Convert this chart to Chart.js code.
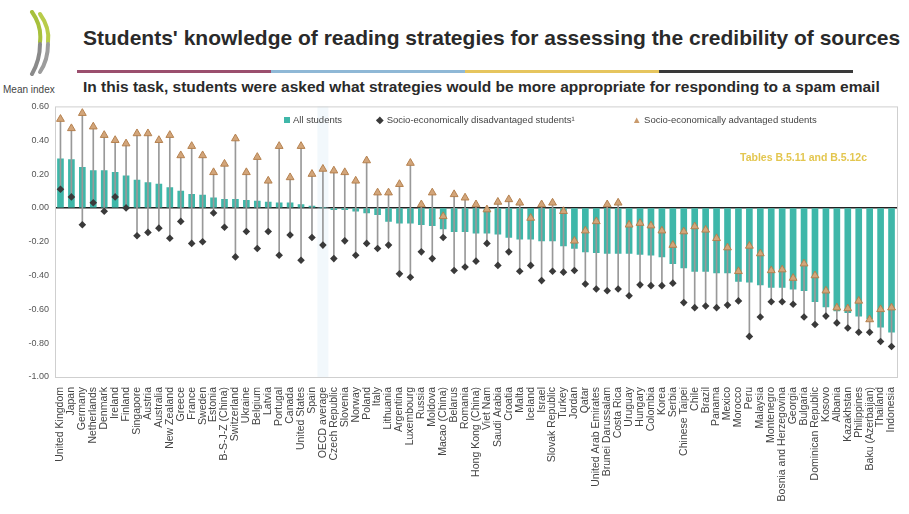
<!DOCTYPE html>
<html>
<head>
<meta charset="utf-8">
<script src="https://cdn.jsdelivr.net/npm/chart.js@4.4.0/dist/chart.umd.min.js"></script>
<style>
  body{margin:0;width:909px;height:514px;overflow:hidden;position:relative;background:#fff;font-family:'Liberation Sans',Arial,sans-serif}
  #logo{position:absolute;left:28px;top:10px}
  #title{position:absolute;left:83px;top:26px;font:bold 21px 'Liberation Sans Narrow','Liberation Sans',sans-serif;color:#2a2a2a;white-space:nowrap}
  #rule{position:absolute;left:77px;top:70px;height:3px;width:776px;display:flex}
  #rule div{flex:1}
  #subtitle{position:absolute;left:83px;top:78px;font:bold 15.5px 'Liberation Sans Narrow','Liberation Sans',sans-serif;color:#2a2a2a;white-space:nowrap}
  #ylabel{position:absolute;left:3px;top:84px;font:10px 'Liberation Sans Narrow','Liberation Sans',sans-serif;color:#444}
  #legend{position:absolute;top:114px;left:0;font:9.5px 'Liberation Sans Narrow','Liberation Sans',sans-serif;color:#444;white-space:nowrap}
  #legend span{position:absolute;top:0}
  #tables{position:absolute;left:740px;top:151px;font:bold 10.5px 'Liberation Sans Narrow','Liberation Sans',sans-serif;color:#e3c64f;white-space:nowrap}
  #wrap{position:absolute;left:0;top:95px;width:909px;height:419px}
</style>
</head>
<body>
<svg id="logo" width="30" height="66" viewBox="0 0 30 66">
  <path d="M4 2 Q14 16 12 32" stroke="#a7c03c" stroke-width="4" fill="none" stroke-linecap="round"/>
  <path d="M12 4 Q22 18 20 32" stroke="#b8cc4a" stroke-width="4" fill="none" stroke-linecap="round"/>
  <path d="M12 34 Q12 50 4 64" stroke="#8a8a8a" stroke-width="4" fill="none" stroke-linecap="round"/>
  <path d="M20 34 Q20 50 12 62" stroke="#9c9c9c" stroke-width="4" fill="none" stroke-linecap="round"/>
</svg>
<div id="title">Students' knowledge of reading strategies for assessing the credibility of sources</div>
<div id="rule"><div style="background:#9b4f6e"></div><div style="background:#8fb8d6"></div><div style="background:#e6c55e"></div><div style="background:#3a3a3a"></div></div>
<div id="subtitle">In this task, students were asked what strategies would be more appropriate for responding to a spam email</div>
<div id="ylabel">Mean index</div>
<div id="wrap"><canvas id="chart"></canvas></div>
<div id="legend">
  <span style="left:284px"><span style="position:relative;display:inline-block;width:6px;height:6px;background:#3fb7a9;margin-right:3px"></span>All students</span>
  <span style="left:376px"><span style="position:relative;color:#3a3a3a">&#9670;</span> Socio-economically disadvantaged students¹</span>
  <span style="left:632px"><span style="position:relative;color:#c99a6c">&#9650;</span> Socio-economically advantaged students</span>
</div>
<div id="tables">Tables B.5.11 and B.5.12c</div>

<script>
// Data
const countries = ['United Kingdom','Japan','Germany','Netherlands','Denmark','Ireland','Finland','Singapore','Austria','Australia',
  'New Zealand','Greece','France','Sweden','Estonia','B-S-J-Z (China)','Switzerland','Ukraine','Belgium','Latvia',
  'Portugal','Canada','United States','Spain','OECD average','Czech Republic','Slovenia','Norway','Poland','Italy',
  'Lithuania','Argentina','Luxembourg','Russia','Moldova','Macao (China)','Belarus','Romania','Hong Kong (China)','Viet Nam',
  'Saudi Arabia','Croatia','Malta','Iceland','Israel','Slovak Republic','Turkey','Jordan','Qatar','United Arab Emirates',
  'Brunei Darussalam','Costa Rica','Uruguay','Hungary','Colombia','Korea','Serbia','Chinese Taipei','Chile','Brazil',
  'Panama','Mexico','Morocco','Peru','Malaysia','Montenegro','Bosnia and Herzegovina','Georgia','Bulgaria','Dominican Republic',
  'Kosovo','Albania','Kazakhstan','Philippines','Baku (Azerbaijan)','Thailand','Indonesia'];

const allStudents = [0.29,0.285,0.24,0.22,0.22,0.21,0.19,0.165,0.15,0.14,
  0.12,0.10,0.08,0.075,0.06,0.05,0.05,0.045,0.04,0.035,
  0.03,0.03,0.02,0.01,0.00,-0.01,-0.01,-0.02,-0.03,-0.04,
  -0.08,-0.09,-0.09,-0.10,-0.105,-0.125,-0.14,-0.14,-0.15,-0.15,
  -0.155,-0.175,-0.185,-0.185,-0.195,-0.195,-0.225,-0.24,-0.26,-0.265,
  -0.27,-0.27,-0.27,-0.275,-0.28,-0.29,-0.33,-0.355,-0.375,-0.375,
  -0.385,-0.385,-0.435,-0.44,-0.455,-0.47,-0.47,-0.48,-0.49,-0.555,
  -0.585,-0.61,-0.62,-0.64,-0.655,-0.705,-0.735];

const disadvantaged = [0.11,0.065,-0.10,0.03,-0.02,0.065,0.00,-0.165,-0.145,-0.12,
  -0.18,-0.08,-0.21,-0.20,-0.03,-0.115,-0.29,-0.14,-0.24,-0.14,
  -0.28,-0.16,-0.31,-0.175,-0.22,-0.30,-0.195,-0.28,-0.21,-0.24,
  -0.22,-0.39,-0.41,-0.26,-0.30,-0.175,-0.37,-0.35,-0.315,-0.21,
  -0.34,-0.26,-0.375,-0.34,-0.43,-0.375,-0.38,-0.37,-0.45,-0.48,
  -0.49,-0.48,-0.52,-0.455,-0.46,-0.46,-0.445,-0.56,-0.59,-0.58,
  -0.59,-0.575,-0.55,-0.76,-0.645,-0.555,-0.555,-0.57,-0.645,-0.69,
  -0.64,-0.68,-0.71,-0.735,-0.735,-0.79,-0.82];

const advantaged = [0.525,0.47,0.56,0.48,0.43,0.40,0.38,0.44,0.44,0.40,
  0.43,0.31,0.365,0.31,0.21,0.26,0.41,0.21,0.30,0.16,
  0.365,0.18,0.365,0.20,0.23,0.22,0.21,0.16,0.28,0.09,
  0.09,0.14,0.265,0.02,0.09,-0.05,0.08,0.06,0.02,-0.01,
  0.035,0.05,0.03,-0.06,0.02,0.03,-0.02,-0.195,-0.135,-0.08,
  0.02,0.03,-0.10,-0.09,-0.105,-0.135,-0.22,-0.14,-0.11,-0.13,
  -0.18,-0.235,-0.375,-0.225,-0.27,-0.37,-0.365,-0.415,-0.33,-0.40,
  -0.49,-0.59,-0.595,-0.55,-0.66,-0.60,-0.59];

const yTicks = [0.6,0.4,0.2,0,-0.2,-0.4,-0.6,-0.8,-1.0];

const TEAL = '#3fb7a9', TAN = '#d2a57a', TAN_EDGE = '#b5814f', DARK = '#3a3a3a';

// range line from disadvantaged to advantaged
const ranges = disadvantaged.map((d, i) => [d, advantaged[i]]);

Chart.defaults.font.family = "'Liberation Sans Narrow','Liberation Sans',Arial,sans-serif";
Chart.defaults.color = '#444';

const framePlugin = {
  id: 'frame',
  beforeDatasetsDraw(chart) {
    const {ctx, chartArea: a, scales: {x}} = chart;
    const i = countries.indexOf('OECD average');
    const w = (a.right - a.left) / countries.length;
    ctx.save();
    ctx.fillStyle = 'rgba(205,228,242,0.25)';
    ctx.fillRect(x.getPixelForValue(i) - w / 2, a.top, w, a.bottom - a.top);
    ctx.restore();
  },
  afterDraw(chart) {
    const {ctx, chartArea: a} = chart;
    ctx.save();
    ctx.strokeStyle = '#cfcfcf';
    ctx.lineWidth = 1;
    ctx.strokeRect(a.left + 0.5, a.top + 0.5, a.right - a.left, a.bottom - a.top);
    ctx.restore();
  }
};

new Chart(document.getElementById('chart'), {
  data: {
    labels: countries,
    datasets: [
      {type:'scatter', label:'Socio-economically advantaged students', data: advantaged,
       pointStyle:'triangle', pointRadius:4.5, backgroundColor:TAN, borderColor:TAN_EDGE, borderWidth:1, order:0},
      {type:'scatter', label:'Socio-economically disadvantaged students', data: disadvantaged,
       pointStyle:'rectRot', pointRadius:3.8, backgroundColor:DARK, borderColor:DARK, borderWidth:0, order:1},
      {type:'bar', label:'range', data: ranges, backgroundColor:'#999999',
       barThickness:1, grouped:false, order:2},
      {type:'bar', label:'All students', data: allStudents, backgroundColor:TEAL,
       barThickness:6, grouped:false, order:3}
    ]
  },
  options: {
    responsive:true, maintainAspectRatio:false, animation:false,
    layout:{padding:{top:9, right:12, left:0, bottom:0}},
    plugins:{legend:{display:false}, tooltip:{enabled:false}},
    scales:{
      x:{type:'category', offset:true,
         grid:{display:false}, border:{display:false},
         ticks:{autoSkip:false, minRotation:90, maxRotation:90, padding:2, font:{size:10.5}, color:'#444'},
         afterFit(s){ s.height = 137; }},
      y:{min:-1, max:0.6,
         afterBuildTicks(s){ s.ticks = yTicks.map(v => ({value:v})); },
         ticks:{callback:v => v.toFixed(2), font:{size:9}, color:'#555', padding:6},
         grid:{drawTicks:false, color:c => c.tick && c.tick.value === 0 ? '#222' : 'transparent',
               lineWidth:c => c.tick && c.tick.value === 0 ? 1.6 : 0},
         border:{display:false},
         afterFit(s){ s.width = 55; }}
    }
  },
  plugins:[framePlugin]
});
</script>
</body>
</html>
